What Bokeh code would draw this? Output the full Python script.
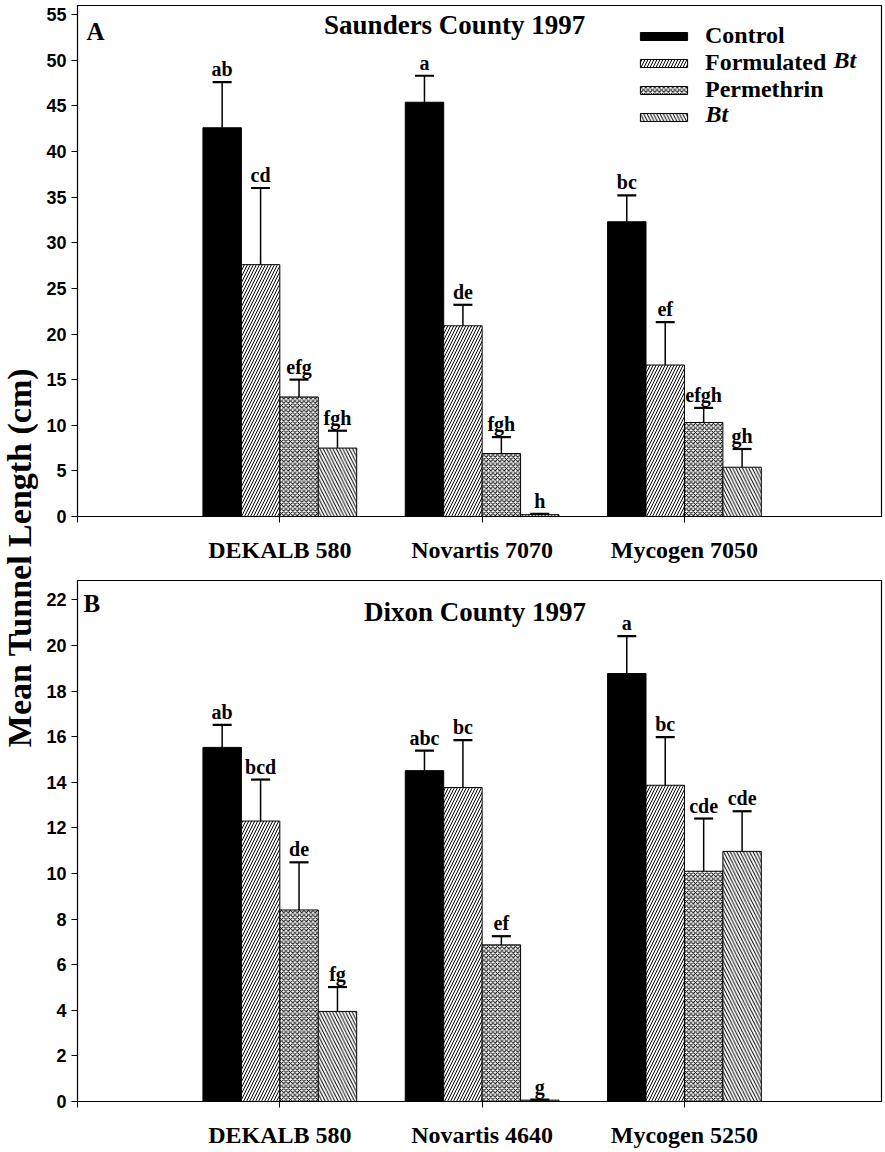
import math
from bokeh.plotting import figure
from bokeh.models import (ColumnDataSource, Whisker, TeeHead, Label, Legend, LegendItem,
                          FixedTicker, Range1d)
from bokeh.layouts import row, column
from bokeh.embed import file_html
from bokeh.resources import INLINE
from bokeh.core.properties import value

# ---------------- data ----------------
treatments = ["Control", "Formulated Bt", "Permethrin", "Bt"]

cats_A = ["DEKALB 580", "Novartis 7070", "Mycogen 7050"]
mean_A = {
    "Control":       [42.6, 45.4, 32.3],
    "Formulated Bt": [27.6, 20.9, 16.6],
    "Permethrin":    [13.1, 6.9, 10.3],
    "Bt":            [7.5, 0.2, 5.4],
}
upper_A = {
    "Control":       [47.6, 48.3, 35.2],
    "Formulated Bt": [36.0, 23.2, 21.3],
    "Permethrin":    [15.0, 8.7, 11.9],
    "Bt":            [9.4, 0.3, 7.4],
}
letters_A = {
    "Control":       ["ab", "a", "bc"],
    "Formulated Bt": ["cd", "de", "ef"],
    "Permethrin":    ["efg", "fgh", "efgh"],
    "Bt":            ["fgh", "h", "gh"],
}

cats_B = ["DEKALB 580", "Novartis 4640", "Mycogen 5250"]
mean_B = {
    "Control":       [15.53, 14.51, 18.77],
    "Formulated Bt": [12.3, 13.77, 13.87],
    "Permethrin":    [8.4, 6.87, 10.1],
    "Bt":            [3.95, 0.06, 10.97],
}
upper_B = {
    "Control":       [16.52, 15.39, 20.41],
    "Formulated Bt": [14.12, 15.85, 15.98],
    "Permethrin":    [10.49, 7.25, 12.41],
    "Bt":            [5.02, 0.08, 12.73],
}
letters_B = {
    "Control":       ["ab", "abc", "a"],
    "Formulated Bt": ["bcd", "bc", "bc"],
    "Permethrin":    ["de", "ef", "cde"],
    "Bt":            ["fg", "g", "cde"],
}

yticks_A = list(range(0, 56, 5))
yticks_B = list(range(0, 23, 2))

# legend text: upright bold part + bold-italic part per entry
legend_plain = ["Control", "Formulated", "Permethrin", " "]
legend_italic = ["", "Bt", "", "Bt"]

# ---------------- styles / layout ----------------
SERIF = "Liberation Serif"
SANS = "Liberation Sans"
BAR_W = 0.19
styles = {
    "Control":       dict(fill_color="black", hatch_pattern=None, hatch_scale=6),
    "Formulated Bt": dict(fill_color="white", hatch_pattern="right_diagonal_line", hatch_scale=6),
    "Permethrin":    dict(fill_color="white", hatch_pattern="diagonal_cross", hatch_scale=4.5),
    "Bt":            dict(fill_color="white", hatch_pattern="left_diagonal_line", hatch_scale=6.5),
}

XMAX = 3.974
FRAME_W_PX = 804.0
LEG_FONT_PX = 24
LEG_X, LEG_Y = 557, 386          # legend bottom-left, px from frame bottom-left
LEG_PAD, LEG_GW, LEG_STAND, LEG_ROW = 4, 59, 12, 27
ITALIC_DX = {"Formulated": 128.0, " ": 0.0}   # px advance of the upright part


def make_panel(cats, means, uppers, letters, yticks, ymax, height, mb_top, mb_bottom,
               letter, title, title_xy, letter_xy, with_legend):
    p = figure(width=845, height=height, output_backend="svg", toolbar_location=None,
               x_range=Range1d(0, XMAX), y_range=Range1d(0, ymax),
               min_border_left=39, min_border_right=2, min_border_top=mb_top,
               min_border_bottom=mb_bottom)
    p.grid.visible = False
    p.outline_line_color = "black"
    p.outline_line_width = 1.2
    p.background_fill_color = "white"
    p.border_fill_color = "white"
    frame_h = height - mb_top - mb_bottom

    xs = [1, 2, 3]
    legend_items = []
    for i, t in enumerate(treatments):
        off = (i - 1.5) * BAR_W
        src = ColumnDataSource(dict(
            x=[c + off for c in xs], top=means[t], upper=uppers[t], lab=letters[t]))
        st = styles[t]
        kw = {}
        if st["hatch_pattern"]:
            kw = dict(hatch_pattern=st["hatch_pattern"], hatch_scale=st["hatch_scale"],
                      hatch_color="black", hatch_weight=1)
        r = p.vbar(x="x", top="top", bottom=0, width=BAR_W, source=src,
                   fill_color=st["fill_color"], line_color="black", line_width=1, **kw)
        legend_items.append(LegendItem(label=legend_plain[i], renderers=[r]))
        w = Whisker(source=src, base="x", lower="top", upper="upper", dimension="height",
                    line_color="black", line_width=1.5,
                    upper_head=TeeHead(size=19, line_color="black", line_width=2.2),
                    lower_head=None, level="overlay")
        p.add_layout(w)
        p.text(x="x", y="upper", text="lab", source=src, text_align="center",
               text_baseline="bottom", y_offset=-2, text_font=value(SERIF),
               text_font_style="bold", text_font_size="20px", text_color="black")

    # axes
    p.xaxis.ticker = FixedTicker(ticks=[0, 1, 2, 3])
    p.xaxis.major_label_overrides = {0: "", 1: cats[0], 2: cats[1], 3: cats[2]}
    p.xaxis.minor_tick_line_color = None
    p.xaxis.major_tick_in = 0
    p.xaxis.major_tick_out = 6
    p.xaxis.major_label_standoff = 14
    p.xaxis.major_label_text_font = SERIF
    p.xaxis.major_label_text_font_style = "bold"
    p.xaxis.major_label_text_font_size = "24px"
    p.xaxis.major_label_text_color = "black"
    p.xaxis.axis_line_color = "black"
    p.xaxis.major_tick_line_color = "black"

    p.yaxis.ticker = FixedTicker(ticks=yticks)
    p.yaxis.minor_tick_line_color = None
    p.yaxis.major_tick_in = 0
    p.yaxis.major_tick_out = 6
    p.yaxis.major_label_standoff = 5
    p.yaxis.major_label_text_font = SANS
    p.yaxis.major_label_text_font_style = "bold"
    p.yaxis.major_label_text_font_size = "18px"
    p.yaxis.major_label_text_color = "black"
    p.yaxis.axis_line_color = "black"
    p.yaxis.major_tick_line_color = "black"

    p.add_layout(Label(x=letter_xy[0], y=letter_xy[1], text=letter, text_font=SERIF,
                       text_font_style="bold", text_font_size="25px",
                       text_baseline="middle", text_align="left", text_color="black"))
    p.add_layout(Label(x=title_xy[0], y=title_xy[1], text=title, text_font=SERIF,
                       text_font_style="bold", text_font_size="27px",
                       text_baseline="middle", text_align="center", text_color="black"))

    if with_legend:
        lg = Legend(items=legend_items, location=(LEG_X, LEG_Y),
                    label_text_font=SERIF, label_text_font_style="bold",
                    label_text_font_size=f"{LEG_FONT_PX}px", label_text_color="black",
                    glyph_width=LEG_GW, glyph_height=10, label_height=LEG_ROW,
                    label_standoff=LEG_STAND, spacing=0, padding=LEG_PAD, margin=0,
                    border_line_color=None, background_fill_alpha=0)
        p.add_layout(lg)
        # bold-italic parts of the legend entries ("Bt"), placed after the upright text
        text_left = LEG_X + LEG_PAD + LEG_GW + LEG_STAND - 4
        n = len(legend_items)
        leg_top = LEG_Y + 2 * LEG_PAD + n * LEG_ROW          # px above frame bottom
        for i, (plain, ital) in enumerate(zip(legend_plain, legend_italic)):
            if not ital:
                continue
            x_px = text_left + ITALIC_DX.get(plain, 0.0)
            y_px = leg_top - LEG_PAD - LEG_ROW * (i + 0.5) - 1
            p.add_layout(Label(x=x_px / FRAME_W_PX * XMAX, y=y_px / frame_h * ymax,
                               text=ital, text_font=SERIF, text_font_style="bold italic",
                               text_font_size=f"{LEG_FONT_PX}px", text_baseline="middle",
                               text_align="left", text_color="black"))
    return p


pA = make_panel(cats_A, mean_A, upper_A, letters_A, yticks_A, 56.0, 577, 5, 61,
                "A", "Saunders County 1997", (1.864, 53.9), (0.045, 53.2), True)
pB = make_panel(cats_B, mean_B, upper_B, letters_B, yticks_B, 22.85, 573, 3, 46,
                "B", "Dixon County 1997", (1.965, 21.45), (0.03, 21.85), False)

# shared y-axis title
pl = figure(width=38, height=1150, output_backend="svg", toolbar_location=None,
            x_range=Range1d(0, 38), y_range=Range1d(0, 1150),
            min_border_left=0, min_border_right=0, min_border_top=0, min_border_bottom=0)
pl.axis.visible = False
pl.grid.visible = False
pl.outline_line_color = None
pl.add_layout(Label(x=19, y=593, text="Mean Tunnel Length (cm)", angle=math.pi / 2,
                    text_align="center", text_baseline="middle", text_font=SERIF,
                    text_font_style="bold", text_font_size="34px", text_color="black"))

layout = row(pl, column(pA, pB, spacing=0), spacing=0)
open("out.html", "w").write(file_html(layout, INLINE))
